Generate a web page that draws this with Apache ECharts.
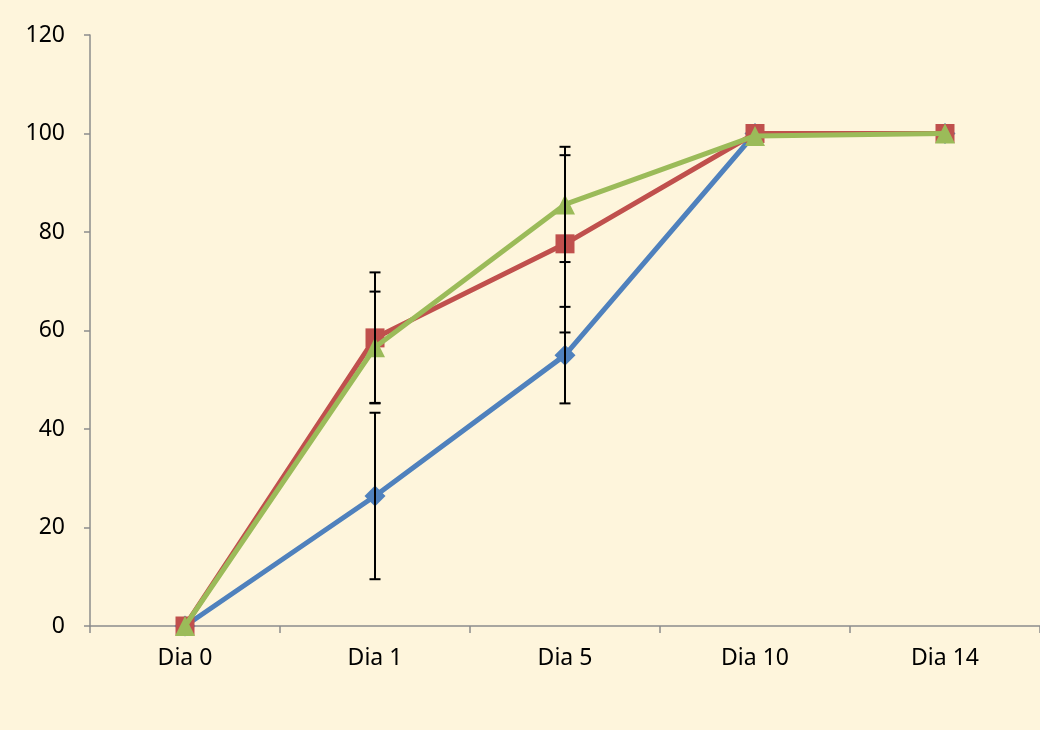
<!DOCTYPE html>
<html>
<head>
<meta charset="utf-8">
<script src="https://cdn.jsdelivr.net/npm/echarts@6/dist/echarts.min.js"></script>
<style>
html,body{margin:0;padding:0;background:#FEF5DC;}
#c{width:1040px;height:730px;}
</style>
</head>
<body>
<div id="c"></div>
<script>
var categories = ['Dia 0', 'Dia 1', 'Dia 5', 'Dia 10', 'Dia 14'];
var yTicks = [0, 20, 40, 60, 80, 100, 120];
var blueValues = [0, 26.4, 55.0, 100, 100];
var blueErrors = [0, 16.9, 9.8, 0, 0];
var redValues = [0, 58.5, 77.6, 100, 100];
var redErrors = [0, 13.3, 18.0, 0, 0];
var greenValues = [0, 56.6, 85.6, 99.5, 100];
var greenErrors = [0, 11.3, 11.7, 0, 0];

var colors = {blue: '#4F81BD', red: '#C0504D', green: '#9BBB59'};

function errData(vals, errs) {
  var out = [];
  for (var i = 0; i < vals.length; i++) {
    if (errs[i] > 0) out.push([i, vals[i], errs[i]]);
  }
  return out;
}

function errRender(params, api) {
  var x = api.value(0), v = api.value(1), e = api.value(2);
  var top = api.coord([x, v + e]);
  var bot = api.coord([x, v - e]);
  var hw = 5.5;
  var st = {stroke: '#000', lineWidth: 2};
  return {
    type: 'group',
    children: [
      {type: 'line', shape: {x1: top[0], y1: top[1], x2: bot[0], y2: bot[1]}, style: st},
      {type: 'line', shape: {x1: top[0] - hw, y1: top[1], x2: top[0] + hw, y2: top[1]}, style: st},
      {type: 'line', shape: {x1: bot[0] - hw, y1: bot[1], x2: bot[0] + hw, y2: bot[1]}, style: st}
    ]
  };
}

var axisFont = {fontFamily: 'Noto Sans', fontSize: 23, color: '#000'};

var chart = echarts.init(document.getElementById('c'));
chart.setOption({
  backgroundColor: '#FEF5DC',
  animation: false,
  grid: {left: 90, right: 0, top: 35, bottom: 104, containLabel: false},
  xAxis: {
    type: 'category',
    data: categories,
    boundaryGap: true,
    axisLine: {lineStyle: {color: '#8C8C8C', width: 1.5}},
    axisTick: {show: true, length: 7, lineStyle: {color: '#8C8C8C', width: 1.5}},
    axisLabel: Object.assign({margin: 21}, axisFont),
    splitLine: {show: false}
  },
  yAxis: {
    type: 'value',
    min: yTicks[0],
    max: yTicks[yTicks.length - 1],
    interval: 20,
    axisLine: {show: true, lineStyle: {color: '#8C8C8C', width: 1.5}},
    axisTick: {show: true, length: 6, lineStyle: {color: '#8C8C8C', width: 1.5}},
    axisLabel: Object.assign({margin: 25}, axisFont),
    splitLine: {show: false}
  },
  series: [
    {type: 'line', data: blueValues, symbol: 'diamond', symbolSize: 21,
      lineStyle: {color: colors.blue, width: 5}, itemStyle: {color: colors.blue}, z: 2},
    {type: 'line', data: redValues, symbol: 'rect', symbolSize: 19,
      lineStyle: {color: colors.red, width: 5}, itemStyle: {color: colors.red}, z: 3},
    {type: 'line', data: greenValues, symbol: 'triangle', symbolSize: 20,
      lineStyle: {color: colors.green, width: 5}, itemStyle: {color: colors.green}, z: 4},
    {type: 'custom', renderItem: errRender, data: errData(blueValues, blueErrors), z: 10},
    {type: 'custom', renderItem: errRender, data: errData(redValues, redErrors), z: 10},
    {type: 'custom', renderItem: errRender, data: errData(greenValues, greenErrors), z: 10}
  ]
});
</script>
</body>
</html>
